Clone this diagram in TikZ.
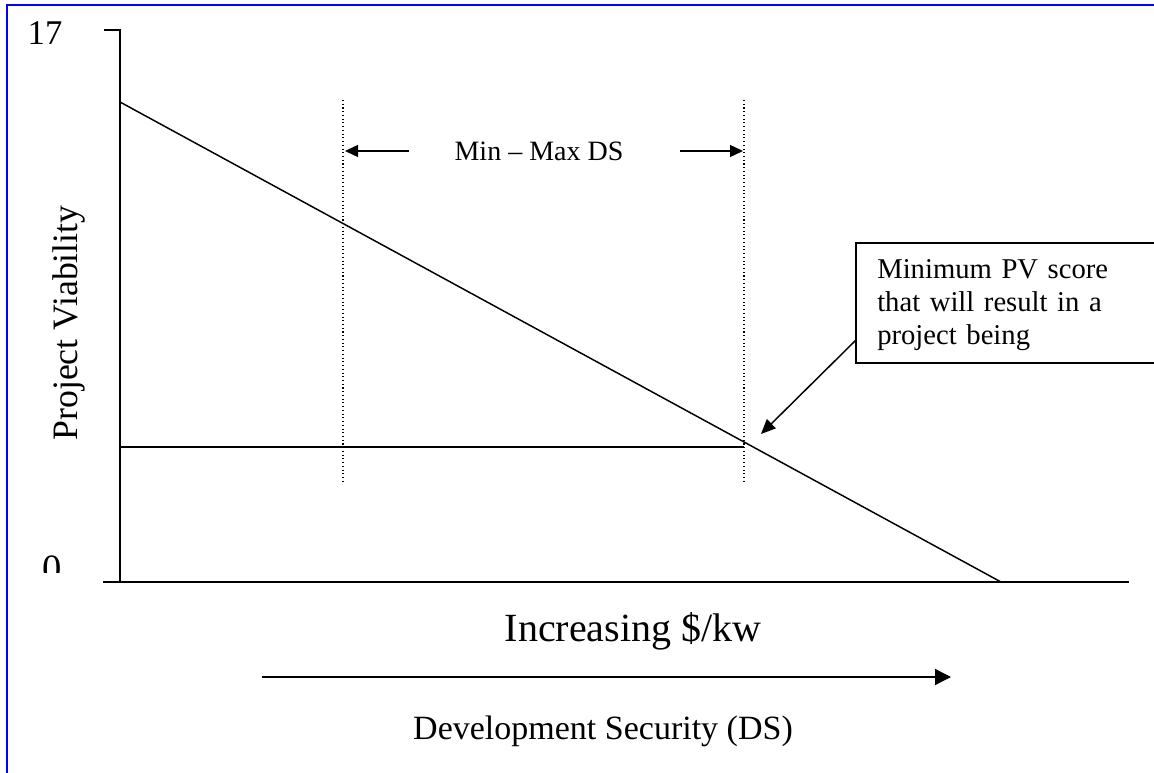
\documentclass[tikz,border=0pt]{standalone}
\usepackage{fontspec}
\setmainfont{Liberation Serif}
\usetikzlibrary{arrows.meta}
\begin{document}
\begin{tikzpicture}[x=0.75pt,y=-0.75pt,
  ln/.style={line width=1.1pt},
  dotln/.style={line width=0.8pt, dotted},
  smalltip/.style={-{Triangle[length=9.75pt,width=9pt]}},
  bigtip/.style={-{Triangle[length=12pt,width=12pt]}},
  lab/.style={inner sep=0pt, anchor=base}]
\useasboundingbox (0,0) rectangle (1154,773);
\fill[white] (0,0) rectangle (1154,773);
% frame
\draw[blue, line width=1.5pt] (7,773) -- (7,5) -- (1154,5);
% axis coordinates
\coordinate (ytick) at (104,30);
\coordinate (ytop) at (120,30);
\coordinate (O) at (120,582);
\coordinate (xleft) at (103,582);
\coordinate (xend) at (1129,582);
\coordinate (dstart) at (120,102);
\coordinate (dend) at (1001,582);
\coordinate (hend) at (744,447);
\coordinate (hstart) at (120,447);
% axes
\draw[ln] (ytick) -- (ytop) -- (O);
\draw[ln] (xleft) -- (xend);
% lines
\draw[ln] (dstart) -- (dend);
\draw[ln] (hstart) -- (hend);
% dotted verticals
\coordinate (d1t) at (343,100); \coordinate (d1b) at (343,483);
\coordinate (d2t) at (744,100); \coordinate (d2b) at (744,483);
\draw[dotln] (d1t) -- (d1b);
\draw[dotln] (d2t) -- (d2b);
% min-max
\node[lab, font=\fontsize{21}{24}\selectfont] (minmax) at (539,161) {Min -- Max DS};
\coordinate (la) at (409,151); \coordinate (lt) at (345,151);
\coordinate (ra) at (680,151); \coordinate (rt) at (743,151);
\draw[ln, smalltip] (la) -- (lt);
\draw[ln, smalltip] (ra) -- (rt);
% box
\draw[ln] (1160,243) -- (856,243) -- (856,363) -- (1160,363);
\node[inner sep=0pt, anchor=base west, text width=210pt, align=left,
      font=\fontsize{21.5}{24.75}\selectfont] (boxtext) at (877,279)
      {Minimum PV score\\that will result in a\\project being};
\coordinate (bstart) at (856,340);
\coordinate (btip) at (761,434);
\draw[ln, -{Triangle[length=11pt,width=9.5pt]}] (bstart) -- (btip);
% y labels
\node[lab, font=\fontsize{26}{28}\selectfont] (n17) at (45,45) {17};
\begin{scope}
\clip (0,0) rectangle (120,573);
\node[lab, font=\fontsize{29}{31}\selectfont] (n0) at (52,581) {0};
\end{scope}
\node[lab, rotate=90, font=\fontsize{26.8}{30}\selectfont] (pv) at (77,323) {Project Viability};
% x labels
\node[lab, font=\fontsize{30}{32}\selectfont] (incr) at (633,642) {Increasing \$/kw};
\coordinate (astart) at (262,677);
\coordinate (aend) at (951,677);
\draw[ln, bigtip] (astart) -- (aend);
\node[lab, font=\fontsize{25.5}{28}\selectfont] (ds) at (603,739) {Development Security (DS)};
\end{tikzpicture}
\end{document}
